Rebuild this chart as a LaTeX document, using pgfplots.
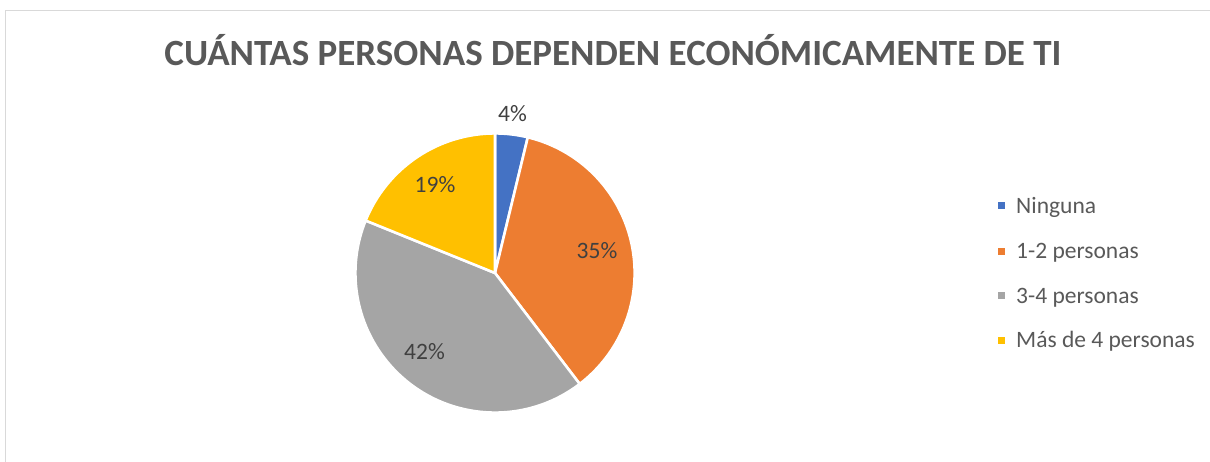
\documentclass[border=0pt]{standalone}
\usepackage{pgfplots}
\pgfplotsset{compat=1.18}
\usepackage{pgfplotstable}
\usepackage{fontspec}
\setmainfont{Carlito}
\definecolor{pie0}{HTML}{4472C4}
\definecolor{pie1}{HTML}{ED7D31}
\definecolor{pie2}{HTML}{A5A5A5}
\definecolor{pie3}{HTML}{FFC000}
\definecolor{titlegray}{HTML}{595959}
\definecolor{labelgray}{HTML}{404040}
\definecolor{framegray}{HTML}{D9D9D9}
% counts per category (share of 53 respondents)
\pgfplotstableread[col sep=comma]{
label,value
Ninguna,2
1-2 personas,19
3-4 personas,22
Más de 4 personas,10
}\piedata
\begin{document}
\begin{tikzpicture}
\begin{axis}[
  scale only axis, width=1210pt, height=461pt,
  xmin=0, xmax=1210, ymin=0, ymax=461,
  hide axis, clip=false,
]
\coordinate (ll) at (axis cs:0,0);
\coordinate (ur) at (axis cs:1210,461);
\path[draw=framegray, line width=1.2pt] (axis cs:5.5,-5) -- (axis cs:5.5,450.5) -- (axis cs:1215,450.5);
\def\cum{0}
\def\tot{53}
\pgfplotsforeachungrouped \i in {0,...,3}{%
  \pgfplotstablegetelem{\i}{value}\of\piedata
  \let\v\pgfplotsretval
  \pgfmathsetmacro\a{90-\cum/\tot*360}%
  \pgfmathsetmacro\b{90-(\cum+\v)/\tot*360}%
  \edef\temp{\noexpand\fill[pie\i, draw=white, line width=2.6pt, line join=round] (axis cs:495,188) -- ++(\a:139.6pt) arc[start angle=\a, end angle=\b, radius=139.6pt] -- cycle;}%
  \temp
  \pgfmathsetmacro\cum{\cum+\v}%
  \xdef\cum{\cum}%
}
% data labels
\node[anchor=base, text=labelgray, font=\fontsize{23.5}{28}\selectfont] at (axis cs:512.5,339) {4\%};
\node[anchor=base, text=labelgray, font=\fontsize{23.5}{28}\selectfont] at (axis cs:597,202) {35\%};
\node[anchor=base, text=labelgray, font=\fontsize{23.5}{28}\selectfont] at (axis cs:424.5,102) {42\%};
\node[anchor=base, text=labelgray, font=\fontsize{23.5}{28}\selectfont] at (axis cs:435,268) {19\%};
% title
\node[anchor=base, text=titlegray, font=\fontsize{37}{41}\selectfont\bfseries] at (axis cs:613,395.3) {CUÁNTAS PERSONAS DEPENDEN ECONÓMICAMENTE DE TI};
% legend
\fill[pie0] (axis cs:998,251.7) rectangle (axis cs:1005,258.7);
\node[anchor=base west, inner sep=0pt, text=titlegray, font=\fontsize{23.5}{28}\selectfont] at (axis cs:1016,247.7) {Ninguna};
\fill[pie1] (axis cs:998,206.2) rectangle (axis cs:1005,213.2);
\node[anchor=base west, inner sep=0pt, text=titlegray, font=\fontsize{23.5}{28}\selectfont] at (axis cs:1016,202.2) {1-2 personas};
\fill[pie2] (axis cs:998,161.7) rectangle (axis cs:1005,168.7);
\node[anchor=base west, inner sep=0pt, text=titlegray, font=\fontsize{23.5}{28}\selectfont] at (axis cs:1016,157.7) {3-4 personas};
\fill[pie3] (axis cs:998,117.2) rectangle (axis cs:1005,124.2);
\node[anchor=base west, inner sep=0pt, text=titlegray, font=\fontsize{23.5}{28}\selectfont] at (axis cs:1016,113.2) {Más de 4 personas};
\end{axis}
\pgfresetboundingbox
\path (ll) rectangle (ur);
\end{tikzpicture}
\end{document}
